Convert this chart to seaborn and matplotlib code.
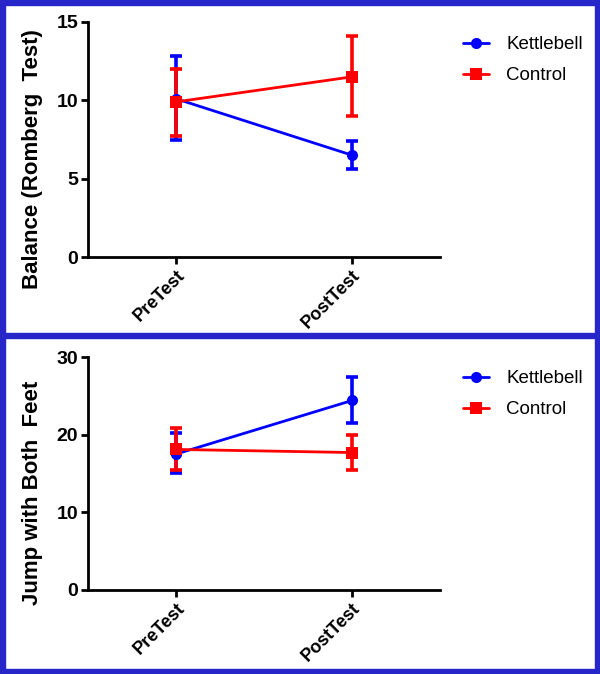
import matplotlib
matplotlib.use("Agg")
import matplotlib.pyplot as plt
import seaborn as sns
import pandas as pd
from matplotlib.patches import Rectangle

sns.set_theme(style="ticks")
plt.rcParams['font.family'] = ['Liberation Sans', 'DejaVu Sans']
plt.rcParams['text.color'] = 'black'
plt.rcParams['axes.labelcolor'] = 'black'
plt.rcParams['xtick.color'] = 'black'
plt.rcParams['ytick.color'] = 'black'

phases = ["PreTest", "PostTest"]
groups = ["Kettlebell", "Control"]

balance_kettlebell = [10.1, 6.5]
balance_kettlebell_lo = [7.5, 5.6]
balance_kettlebell_hi = [12.8, 7.4]
balance_control = [9.9, 11.5]
balance_control_lo = [7.7, 9.0]
balance_control_hi = [12.0, 14.1]

jump_kettlebell = [17.5, 24.4]
jump_kettlebell_lo = [15.1, 21.5]
jump_kettlebell_hi = [20.2, 27.4]
jump_control = [18.1, 17.7]
jump_control_lo = [15.4, 15.5]
jump_control_hi = [20.8, 20.0]

colors = {"Kettlebell": "#0000ff", "Control": "#ff0000"}
markers = {"Kettlebell": "o", "Control": "s"}
border = "#2727c9"

W, H = 600, 674
fig = plt.figure(figsize=(6.0, 6.74), dpi=100)
fig.patch.set_facecolor("white")


def panel(rect, series, ylabel, yticks, legend_top):
    ax = fig.add_axes(rect)
    rows = []
    for g, (m, lo, hi) in series.items():
        for p, v, l, h in zip(phases, m, lo, hi):
            rows.append({"Phase": p, "Group": g, "Mean": v, "Lo": l, "Hi": h})
    df = pd.DataFrame(rows)
    df["x"] = [phases.index(p) for p in df["Phase"]]
    for g in groups:
        d = df[df["Group"] == g]
        ax.errorbar(d["x"], d["Mean"], yerr=[d["Mean"] - d["Lo"], d["Hi"] - d["Mean"]],
                    fmt="none", ecolor=colors[g], elinewidth=2.6, capsize=4.5,
                    capthick=2.6, zorder=2)
    sns.lineplot(data=df, x="x", y="Mean", hue="Group", style="Group",
                 palette=colors, markers=markers, dashes=False, linewidth=2.0,
                 markersize=8, markeredgewidth=0, ax=ax, legend=True, zorder=3)
    h, l = ax.get_legend_handles_labels()
    if ax.get_legend() is not None:
        ax.get_legend().remove()
    ax.set_xlim(-0.5, 1.5)
    ax.set_ylim(yticks[0], yticks[-1])
    ax.set_yticks(yticks)
    ax.set_xticks([0, 1])
    ax.set_xticklabels(phases, rotation=45, ha="right", rotation_mode="anchor",
                       fontsize=13, fontweight="bold")
    ax.set_yticklabels([str(t) for t in yticks], fontsize=14, fontweight="bold")
    ax.set_xlabel("")
    ax.set_ylabel(ylabel, fontsize=16, fontweight="bold", color="black")
    ax.yaxis.set_label_coords(-0.128, 0.417)
    for s in ["top", "right"]:
        ax.spines[s].set_visible(False)
    for s in ["left", "bottom"]:
        ax.spines[s].set_linewidth(2.0)
        ax.spines[s].set_color("black")
    ax.tick_params(axis="both", direction="out", length=5, width=2.0, colors="black", pad=2)
    fig.legend(h, l, loc="upper left", bbox_to_anchor=(463/W, 1-legend_top/H),
               bbox_transform=fig.transFigure, frameon=False, borderpad=0,
               borderaxespad=0, fontsize=13.5, handlelength=1.4, handletextpad=0.9,
               labelspacing=0.75)
    ax.set_facecolor("white")
    return ax


panel([88/W, 1-257/H, (440-88)/W, (257-22)/H],
      {"Kettlebell": (balance_kettlebell, balance_kettlebell_lo, balance_kettlebell_hi),
       "Control": (balance_control, balance_control_lo, balance_control_hi)},
      "Balance (Romberg  Test)", [0, 5, 10, 15], 36)

panel([88/W, 1-590/H, (440-88)/W, (590-357)/H],
      {"Kettlebell": (jump_kettlebell, jump_kettlebell_lo, jump_kettlebell_hi),
       "Control": (jump_control, jump_control_lo, jump_control_hi)},
      "Jump with Both  Feet", [0, 10, 20, 30], 370)

t = 5
fig.patches.append(Rectangle((0, 0), 1, t/H, transform=fig.transFigure, color=border, zorder=10))
fig.patches.append(Rectangle((0, 1-t/H), 1, t/H, transform=fig.transFigure, color=border, zorder=10))
fig.patches.append(Rectangle((0, 0), t/W, 1, transform=fig.transFigure, color=border, zorder=10))
fig.patches.append(Rectangle((1-t/W, 0), t/W, 1, transform=fig.transFigure, color=border, zorder=10))
fig.patches.append(Rectangle((0, 1-338/H), 1, 5/H, transform=fig.transFigure, color=border, zorder=10))

fig.savefig("out.png", dpi=100, facecolor="white")
